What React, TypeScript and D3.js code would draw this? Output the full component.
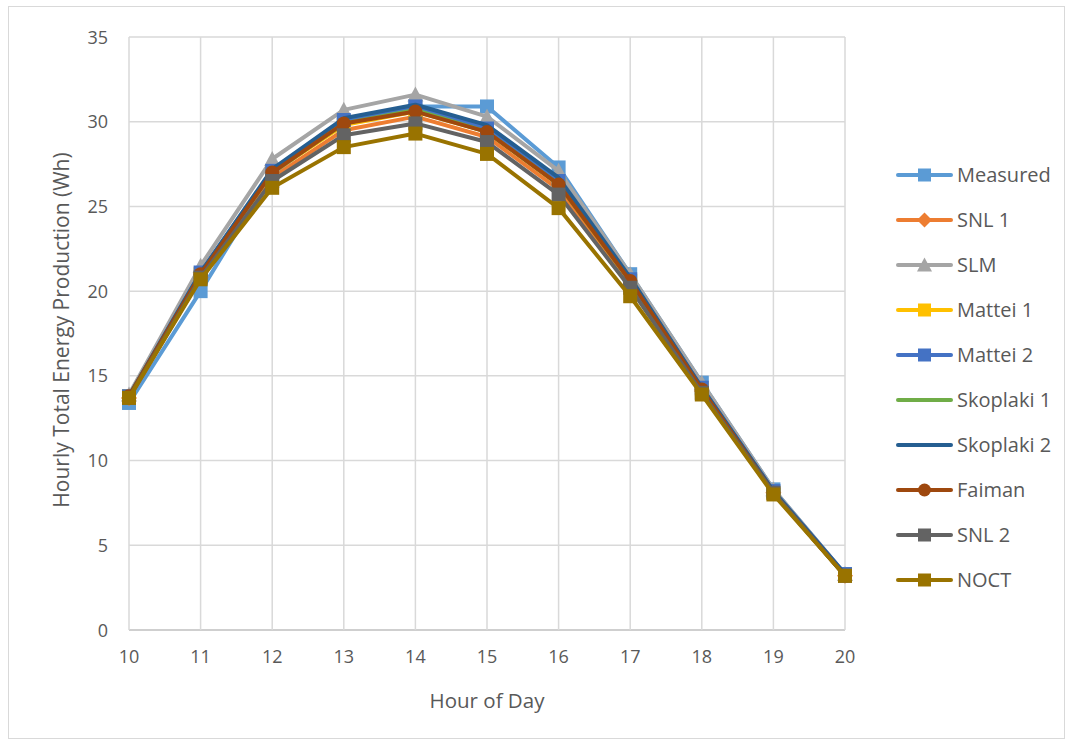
import * as d3 from 'd3'

const HOURS = [10, 11, 12, 13, 14, 15, 16, 17, 18, 19, 20]
const Y_TICKS = [0, 5, 10, 15, 20, 25, 30, 35]

const MEASURED = [13.4, 20.0, 26.9, 30.0, 30.9, 30.9, 27.3, 21.0, 14.6, 8.3, 3.3]
const SNL1 = [13.7, 20.8, 26.7, 29.5, 30.3, 29.1, 26.0, 20.4, 14.1, 8.1, 3.2]
const SLM = [13.9, 21.5, 27.8, 30.7, 31.6, 30.3, 27.1, 21.0, 14.6, 8.3, 3.3]
const MATTEI1 = [13.8, 21.0, 27.0, 29.8, 30.6, 29.4, 26.3, 20.6, 14.2, 8.1, 3.2]
const MATTEI2 = [13.8, 21.1, 27.1, 30.1, 30.9, 29.6, 26.5, 20.7, 14.3, 8.2, 3.3]
const SKOPLAKI1 = [13.8, 21.0, 27.0, 29.9, 30.7, 29.4, 26.3, 20.6, 14.2, 8.1, 3.2]
const SKOPLAKI2 = [13.8, 21.1, 27.2, 30.2, 31.0, 29.8, 26.7, 20.8, 14.3, 8.2, 3.3]
const FAIMAN = [13.8, 21.0, 27.0, 29.9, 30.6, 29.4, 26.3, 20.6, 14.2, 8.1, 3.2]
const SNL2 = [13.7, 20.8, 26.5, 29.2, 29.9, 28.8, 25.7, 20.2, 14.0, 8.1, 3.2]
const NOCT = [13.7, 20.7, 26.1, 28.5, 29.3, 28.1, 24.9, 19.7, 13.9, 8.0, 3.2]

const SERIES_NAMES = ['Measured', 'SNL 1', 'SLM', 'Mattei 1', 'Mattei 2', 'Skoplaki 1', 'Skoplaki 2', 'Faiman', 'SNL 2', 'NOCT']
const SERIES_VALUES = [MEASURED, SNL1, SLM, MATTEI1, MATTEI2, SKOPLAKI1, SKOPLAKI2, FAIMAN, SNL2, NOCT]
const SERIES_COLORS = ['#5b9bd5', '#ed7d31', '#a5a5a5', '#ffc000', '#4472c4', '#70ad47', '#255e91', '#9e480e', '#636363', '#997300']
const SERIES_MARKERS = ['square', 'diamond', 'triangle', 'square', 'square', 'none', 'none', 'circle', 'square', 'square']

const WIDTH = 1069
const HEIGHT = 742
const MARGIN = { top: 37, right: 224, bottom: 112, left: 129 }
const FONT = '"Open Sans", Lato, sans-serif'
const TEXT_COLOR = '#595959'

function Marker({ kind, x, y, color, size }: { kind: string; x: number; y: number; color: string; size: number }) {
  if (kind === 'none') return null
  const h = size / 2
  if (kind === 'square') return <rect x={x - h} y={y - h} width={size} height={size} fill={color} />
  if (kind === 'diamond') return <path d={`M${x},${y - h - 1}L${x + h + 1},${y}L${x},${y + h + 1}L${x - h - 1},${y}Z`} fill={color} />
  if (kind === 'triangle') return <path d={`M${x},${y - h - 1}L${x + h + 1},${y + h}L${x - h - 1},${y + h}Z`} fill={color} />
  return <circle cx={x} cy={y} r={h} fill={color} />
}

export default function App() {
  const x = d3.scaleLinear().domain([10, 20]).range([MARGIN.left, WIDTH - MARGIN.right])
  const y = d3.scaleLinear().domain([0, 35]).range([HEIGHT - MARGIN.bottom, MARGIN.top])
  const line = d3
    .line<number>()
    .x((_, i) => x(HOURS[i]))
    .y((v) => y(v))

  return (
    <div>
      <style>{'body{margin:0}'}</style>
      <svg width={WIDTH} height={HEIGHT} style={{ display: 'block', fontFamily: FONT }}>
        <rect x={8.5} y={6.5} width={WIDTH - 13} height={HEIGHT - 10} fill="#fff" stroke="#d9d9d9" />

        {Y_TICKS.map((t) => (
          <g key={t}>
            <line x1={x(10)} x2={x(20)} y1={y(t)} y2={y(t)} stroke={t === 0 ? '#bfbfbf' : '#d9d9d9'} strokeWidth={1.5} />
            <text x={x(10) - 21} y={y(t) + 6.5} textAnchor="end" fontSize={18} fill={TEXT_COLOR}>
              {t}
            </text>
          </g>
        ))}
        {HOURS.map((h) => (
          <g key={h}>
            <line x1={x(h)} x2={x(h)} y1={y(35)} y2={y(0)} stroke="#d9d9d9" strokeWidth={1.5} />
            <text x={x(h)} y={y(0) + 33} textAnchor="middle" fontSize={18} fill={TEXT_COLOR}>
              {h}
            </text>
          </g>
        ))}

        <text x={(x(10) + x(20)) / 2} y={708} textAnchor="middle" fontSize={20.5} fill={TEXT_COLOR}>
          Hour of Day
        </text>
        <text
          transform={`translate(69 330) rotate(-90)`}
          textAnchor="middle"
          fontSize={21}
          fill={TEXT_COLOR}
        >
          Hourly Total Energy Production (Wh)
        </text>

        {SERIES_VALUES.map((vals, si) => (
          <g key={SERIES_NAMES[si]}>
            <path d={line(vals) ?? undefined} fill="none" stroke={SERIES_COLORS[si]} strokeWidth={4} strokeLinejoin="round" />
            {vals.map((v, i) => (
              <Marker key={i} kind={SERIES_MARKERS[si]} x={x(HOURS[i])} y={y(v)} color={SERIES_COLORS[si]} size={14} />
            ))}
          </g>
        ))}

        {SERIES_NAMES.map((name, i) => {
          const ly = 175 + i * 45
          return (
            <g key={name}>
              <line x1={898} x2={951} y1={ly} y2={ly} stroke={SERIES_COLORS[i]} strokeWidth={4} strokeLinecap="round" />
              <Marker kind={SERIES_MARKERS[i]} x={924.5} y={ly} color={SERIES_COLORS[i]} size={13} />
              <text x={957} y={ly + 7} fontSize={20} fill={TEXT_COLOR}>
                {name}
              </text>
            </g>
          )
        })}
      </svg>
    </div>
  )
}
